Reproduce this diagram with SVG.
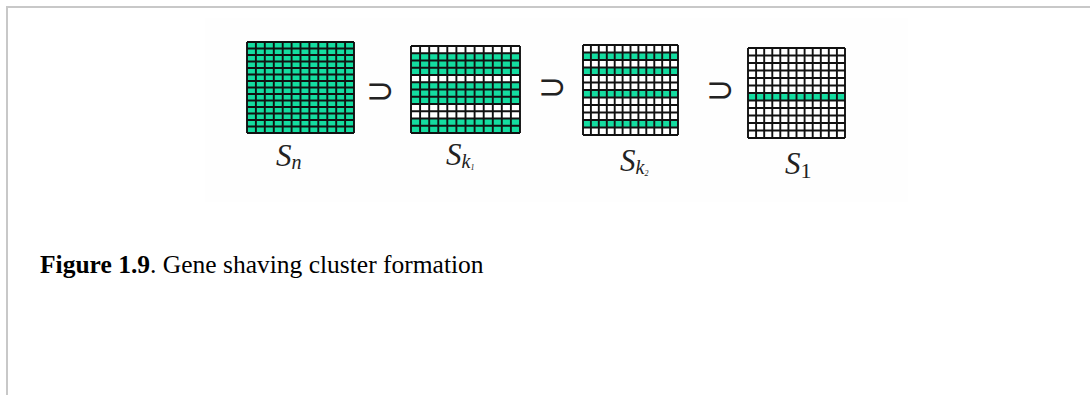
<svg xmlns="http://www.w3.org/2000/svg" width="1090" height="395" viewBox="0 0 1090 395">
  <defs>
    <style>
      .frame { fill: none; stroke: #c8c8c8; stroke-width: 2; }
      .grid { stroke: #111; stroke-width: 1.9; fill: none; }
      .sym { font-family: "DejaVu Sans ExtraLight", "DejaVu Sans", sans-serif; font-size: 34px; fill: #222; }
      .lbl { font-family: "Liberation Serif", serif; font-style: italic; font-size: 31px; fill: #222; }
      .sub { font-family: "Liberation Serif", serif; font-style: italic; font-size: 20px; fill: #222; }
      .subR { font-family: "Liberation Serif", serif; font-style: normal; font-size: 22px; fill: #222; }
      .cap { font-family: "Liberation Serif", serif; font-size: 25.5px; fill: #000; }
    </style>
  </defs>

  <rect width="1090" height="395" fill="#ffffff"/>
  <!-- page frame -->
  <path class="frame" d="M7,395 V7 H1090"/>
  <!-- figure backdrop -->
  <rect x="205" y="18" width="703" height="184" fill="#fefefe"/>

  <!-- S_n: all rows selected (12 x 14) -->
  <g id="grid-sn">
    <rect x="247" y="42" width="107" height="91" fill="#14dca0"/>
    <path class="grid" d="M247,42 V133 M255.9,42 V133 M264.8,42 V133 M273.8,42 V133 M282.7,42 V133 M291.6,42 V133 M300.5,42 V133 M309.4,42 V133 M318.3,42 V133 M327.3,42 V133 M336.2,42 V133 M345.1,42 V133 M354,42 V133 M247,42 H354 M247,48.5 H354 M247,55 H354 M247,61.5 H354 M247,68 H354 M247,74.5 H354 M247,81 H354 M247,87.5 H354 M247,94 H354 M247,100.5 H354 M247,107 H354 M247,113.5 H354 M247,120 H354 M247,126.5 H354 M247,133 H354"/>
  </g>

  <!-- S_k1 -->
  <g id="grid-sk1">
    <rect x="411" y="46" width="109" height="87" fill="#ffffff"/>
    <rect x="411" y="53.25" width="109" height="21.75" fill="#14dca0"/>
    <rect x="411" y="82.25" width="109" height="21.75" fill="#14dca0"/>
    <rect x="411" y="118.5" width="109" height="14.5" fill="#14dca0"/>
    <path class="grid" d="M411,46 V133 M420.1,46 V133 M429.2,46 V133 M438.3,46 V133 M447.3,46 V133 M456.4,46 V133 M465.5,46 V133 M474.6,46 V133 M483.7,46 V133 M492.8,46 V133 M501.8,46 V133 M510.9,46 V133 M520,46 V133 M411,46 H520 M411,53.25 H520 M411,60.5 H520 M411,67.75 H520 M411,75 H520 M411,82.25 H520 M411,89.5 H520 M411,96.75 H520 M411,104 H520 M411,111.25 H520 M411,118.5 H520 M411,125.75 H520 M411,133 H520"/>
  </g>

  <!-- S_k2 -->
  <g id="grid-sk2">
    <rect x="583" y="45" width="95" height="90" fill="#ffffff"/>
    <rect x="583" y="52.5" width="95" height="7.5" fill="#14dca0"/>
    <rect x="583" y="67.5" width="95" height="7.5" fill="#14dca0"/>
    <rect x="583" y="90" width="95" height="7.5" fill="#14dca0"/>
    <rect x="583" y="120" width="95" height="7.5" fill="#14dca0"/>
    <path class="grid" d="M583,45 V135 M590.9,45 V135 M598.8,45 V135 M606.8,45 V135 M614.7,45 V135 M622.6,45 V135 M630.5,45 V135 M638.4,45 V135 M646.3,45 V135 M654.3,45 V135 M662.2,45 V135 M670.1,45 V135 M678,45 V135 M583,45 H678 M583,52.5 H678 M583,60 H678 M583,67.5 H678 M583,75 H678 M583,82.5 H678 M583,90 H678 M583,97.5 H678 M583,105 H678 M583,112.5 H678 M583,120 H678 M583,127.5 H678 M583,135 H678"/>
  </g>

  <!-- S_1 -->
  <g id="grid-s1">
    <rect x="748" y="48" width="97" height="90" fill="#ffffff"/>
    <rect x="748" y="93" width="97" height="7.5" fill="#14dca0"/>
    <path class="grid" d="M748,48 V138 M756.1,48 V138 M764.2,48 V138 M772.3,48 V138 M780.3,48 V138 M788.4,48 V138 M796.5,48 V138 M804.6,48 V138 M812.7,48 V138 M820.8,48 V138 M828.8,48 V138 M836.9,48 V138 M845,48 V138 M748,48 H845 M748,55.5 H845 M748,63 H845 M748,70.5 H845 M748,78 H845 M748,85.5 H845 M748,93 H845 M748,100.5 H845 M748,108 H845 M748,115.5 H845 M748,123 H845 M748,130.5 H845 M748,138 H845"/>
  </g>

  <!-- superset signs -->
  <g id="supersets">
    <text class="sym" x="366" y="102">⊃</text>
    <text class="sym" x="538" y="98">⊃</text>
    <text class="sym" x="706" y="101">⊃</text>
  </g>

  <!-- set labels -->
  <g id="labels">
    <text class="lbl" x="276" y="166">S<tspan class="sub" dy="3">n</tspan></text>
    <text class="lbl" x="446" y="165">S<tspan class="sub" dy="3">k</tspan><tspan font-size="8" dy="2">1</tspan></text>
    <text class="lbl" x="620" y="171">S<tspan class="sub" dy="3">k</tspan><tspan font-size="8" dy="2">2</tspan></text>
    <text class="lbl" x="785" y="174">S<tspan class="subR" dy="4">1</tspan></text>
  </g>

  <!-- caption -->
  <text class="cap" x="40" y="273"><tspan font-weight="bold">Figure 1.9</tspan>. Gene shaving cluster formation</text>
</svg>
